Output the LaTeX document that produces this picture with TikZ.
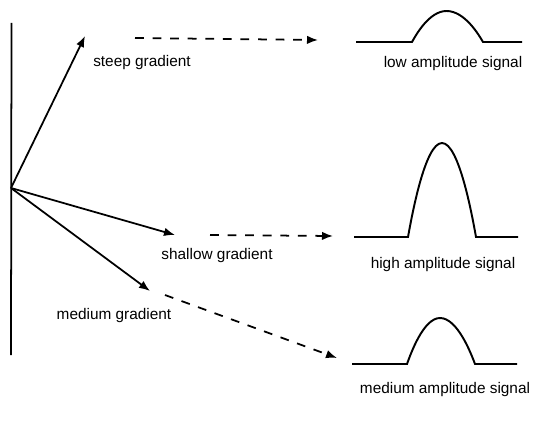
\documentclass[tikz,border=0pt]{standalone}
\usepackage{fontspec}
\setmainfont{Liberation Sans}
\usetikzlibrary{arrows.meta}
\tikzset{
    label/.style = {font=\fontsize{8.75}{10}\selectfont, inner sep=0pt},
    arrow/.style = {line width=1pt, -{Latex[length=2.2mm, width=1.7mm]}},
    dasharrow/.style = {line width=1pt, dash pattern=on 5pt off 5pt, -{Latex[length=2.2mm, width=1.7mm]}},
    signal/.style = {line width=1.1pt}
}

\begin{document}
\begin{tikzpicture}
    \useasboundingbox (0, 0) rectangle (10.78, 8.54);

    % axis and gradients
    \coordinate (top) at (0.23, 8.08);
    \coordinate (bottom) at (0.22, 1.44);
    \coordinate (origin) at (0.22, 4.78);
    \coordinate (steeptip) at (1.7, 7.82);
    \coordinate (shallowtip) at (3.5, 3.84);
    \coordinate (mediumtip) at (3.0, 2.72);

    \node (steep) [label] at (2.84, 7.28) {steep gradient};
    \node (shallow) [label] at (4.34, 3.42) {shallow gradient};
    \node (medium) [label] at (2.28, 2.22) {medium gradient};

    \draw [line width=1pt] (top) -- (bottom);
    \draw [arrow] (origin) -- (steeptip);
    \draw [arrow] (origin) -- (shallowtip);
    \draw [arrow] (origin) -- (mediumtip);

    % dashed links
    \coordinate (lowstart) at (2.7, 7.78);
    \coordinate (lowend) at (6.36, 7.74);
    \coordinate (highstart) at (4.2, 3.84);
    \coordinate (highend) at (6.66, 3.82);
    \coordinate (medstart) at (3.3, 2.64);
    \coordinate (medend) at (6.74, 1.38);

    \draw [dasharrow] (lowstart) -- (lowend);
    \draw [dasharrow] (highstart) -- (highend);
    \draw [dasharrow] (medstart) -- (medend);

    % signals
    \draw [signal] (7.12, 7.7) -- (8.24, 7.7) parabola bend (8.93, 8.32) (9.66, 7.7) -- (10.44, 7.7);
    \draw [signal] (7.08, 3.8) -- (8.16, 3.8) parabola bend (8.84, 5.68) (9.52, 3.8) -- (10.36, 3.8);
    \draw [signal] (7.04, 1.26) -- (8.14, 1.26) parabola bend (8.8, 2.18) (9.5, 1.26) -- (10.34, 1.26);

    \node (lowsig) [label] at (9.06, 7.26) {low amplitude signal};
    \node (highsig) [label] at (8.86, 3.24) {high amplitude signal};
    \node (medsig) [label] at (8.9, 0.74) {medium amplitude signal};
\end{tikzpicture}
\end{document}
